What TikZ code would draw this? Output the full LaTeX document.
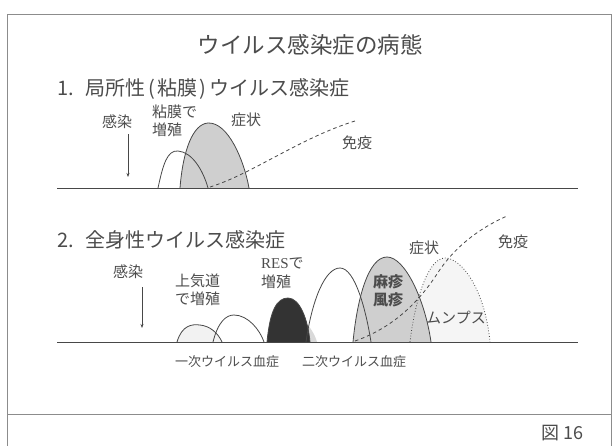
\documentclass[tikz,border=0pt]{standalone}
\usepackage{fontspec}
\setmainfont{Noto Sans CJK JP}
\newfontfamily\resfont{Liberation Serif}
\usetikzlibrary{arrows.meta}
\definecolor{ink}{gray}{0.28}
\definecolor{txt}{gray}{0.30}
\tikzset{
  lbl/.style={text=txt, inner sep=0pt, font=\fontsize{15}{18.5}\selectfont, align=left},
  head/.style={text=txt, inner sep=0pt, font=\fontsize{20}{24}\selectfont, anchor=west},
  small/.style={text=txt, inner sep=0pt, font=\fontsize{13}{15}\selectfont},
  hump/.style={draw=ink, line width=0.8pt},
  axis/.style={draw=ink, line width=1pt},
  frame/.style={draw=black!45, line width=0.9pt},
  immun/.style={draw=ink, line width=0.8pt, dash pattern=on 3.5pt off 3pt},
  infarrow/.style={draw=ink, line width=0.6pt, -{Stealth[length=4pt,width=3pt]}},
}
\begin{document}
\begin{tikzpicture}[x=1pt,y=-1pt]
\useasboundingbox (0,0) rectangle (613,445);
% frame
\draw[frame] (7,450) -- (7,14) -- (611,14) -- (611,450);
\draw[frame] (7,414) -- (611,414);
\node[text=txt, inner sep=0pt, font=\fontsize{18}{20}\selectfont] (fig) at (562,433) {図 16};

% title and headings
\node[text=txt, inner sep=0pt, font=\fontsize{22.5}{26}\selectfont] (title) at (310,45) {ウイルス感染症の病態};
\node[head] (h1) at (57,89) {1.\hspace{12pt}局所性\hspace{3pt}(\hspace{2pt}粘膜\hspace{2pt})\hspace{3pt}ウイルス感染症};
\node[head] (h2) at (57,240) {2.\hspace{12pt}全身性ウイルス感染症};

% ---------- section 1 ----------
\coordinate (b1l) at (57,188);
\coordinate (b1r) at (578,188);
% gray hump (symptoms)
\fill[gray!38] (180,188) .. controls (183,150) and (193,124) .. (208,123)
  .. controls (228,122) and (244,160) .. (249,188) -- cycle;
\draw[hump] (180,188) .. controls (183,150) and (193,124) .. (208,123)
  .. controls (228,122) and (244,160) .. (249,188);
% white hump (mucosal replication)
\draw[hump] (158,188) .. controls (163,165) and (167,150) .. (178,151)
  .. controls (192,152) and (203,170) .. (208,188);
% immunity
\draw[immun] (210,187) .. controls (252,174) and (300,138) .. (355,121);
\draw[axis] (b1l) -- (b1r);

\node[lbl] (inf1) at (117,122) {感染};
\coordinate (a1s) at (128,134);
\coordinate (a1e) at (128,177);
\draw[infarrow] (a1s) -- (a1e);
\node[lbl, anchor=west] (muc) at (152,121) {粘膜で\\増殖};
\node[lbl] (sym1) at (246,120) {症状};
\node[lbl] (imm1) at (357,143) {免疫};

% ---------- section 2 ----------
\coordinate (b2l) at (57,342);
\coordinate (b2r) at (578,342);
% mumps hump (dotted), light fill
\fill[gray!8] (410,342) .. controls (415,300) and (428,258) .. (445,258)
  .. controls (462,258) and (485,290) .. (490,342) -- cycle;
% measles / rubella hump
\fill[gray!38] (353,342) .. controls (357,300) and (368,257) .. (387,257)
  .. controls (405,257) and (425,300) .. (431,342) -- cycle;
\draw[hump] (353,342) .. controls (357,300) and (368,257) .. (387,257)
  .. controls (405,257) and (425,300) .. (431,342);
\draw[draw=ink, line width=0.8pt, dotted] (410,342) .. controls (415,300) and (428,258) .. (445,258)
  .. controls (462,258) and (485,290) .. (490,342);
% first small hump
\fill[gray!10] (177,342) .. controls (182,325) and (192,324) .. (200,325)
  .. controls (210,326) and (218,333) .. (222,342) -- cycle;
\draw[hump] (177,342) .. controls (182,325) and (192,324) .. (200,325)
  .. controls (210,326) and (218,333) .. (222,342);
% second hump
\draw[hump] (213,342) .. controls (218,322) and (226,315) .. (234,315)
  .. controls (248,315) and (260,330) .. (264,342);
% RES hump (black)
\fill[gray!30] (300,318) .. controls (310,325) and (315,335) .. (317,342) -- (305,342) -- cycle;
\fill[black!80] (267,342) .. controls (270,310) and (277,298) .. (288,298)
  .. controls (300,298) and (308,320) .. (310,342) -- cycle;
\draw[hump] (267,342) .. controls (270,310) and (277,298) .. (288,298)
  .. controls (300,298) and (308,320) .. (310,342);
% secondary viremia hump
\draw[hump] (306,342) .. controls (312,300) and (325,268) .. (340,268)
  .. controls (355,268) and (366,310) .. (371,342);
% immunity
\draw[immun] (355,341) .. controls (395,327) and (420,300) .. (437,274)
  .. controls (455,246) and (480,228) .. (507,216);
\draw[axis] (b2l) -- (b2r);

\node[lbl] (inf2) at (128,272) {感染};
\coordinate (a2s) at (142,287);
\coordinate (a2e) at (142,328);
\draw[infarrow] (a2s) -- (a2e);
\node[lbl, anchor=west] (upper) at (175,290) {上気道\\で増殖};
\node[lbl, anchor=west] (res) at (261,273) {{\resfont RES}で\\増殖};
\node[lbl] (sym2) at (424,248) {症状};
\node[lbl] (imm2) at (513,242) {免疫};
\node[lbl, font=\fontsize{15}{18.5}\bfseries, text=black!70] (meas) at (388,282) {麻疹};
\node[lbl, font=\fontsize{15}{18.5}\bfseries, text=black!70] (rub) at (388,300) {風疹};
\node[lbl] (mumps) at (456,318) {ムンプス};
\node[small] (v1) at (227,362) {一次ウイルス血症};
\node[small] (v2) at (354,362) {二次ウイルス血症};
\end{tikzpicture}
\end{document}
